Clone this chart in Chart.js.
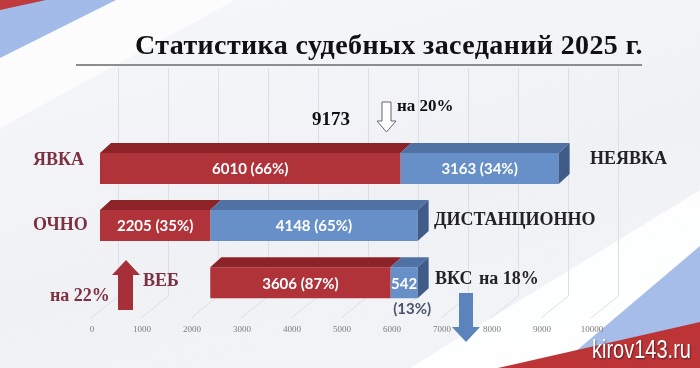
<!DOCTYPE html>
<html>
<head>
<meta charset="utf-8">
<script src="https://cdn.jsdelivr.net/npm/chart.js@4.4.1/dist/chart.umd.min.js"></script>
<style>
    html, body { margin: 0; padding: 0; }
    #wrap {
        position: relative; width: 700px; height: 368px; overflow: hidden;
        background: linear-gradient(165deg, #f6f7fa 0%, #eff1f5 55%, #f4f5f8 100%);
    }
    #deco, #c { position: absolute; left: 0; top: 0; }
    #mark {
        position: absolute; left: 592px; top: 335px;
        font: 25px "Liberation Sans", Arial, sans-serif; color: #fff;
        transform: scaleX(0.8); transform-origin: left top;
        text-shadow: 1px 1px 2px rgba(0,0,0,0.55);
    }
</style>
</head>
<body>
<div id="wrap">
    <svg id="deco" width="700" height="368">
        <polygon points="0,55 112,0 235,0 0,128" fill="#ffffff" opacity="0.7"/>
        <polygon points="0,0 116,0 0,58" fill="#a3bbe8"/>
        <polygon points="0,0 46,0 0,10" fill="#c0393d"/>
        <polygon points="700,190 700,246 556,368 410,368" fill="#ffffff" opacity="0.85"/>
        <polygon points="700,246 700,368 556,368" fill="#a5bde8"/>
        <polygon points="700,322 700,368 498,368" fill="#bd3437"/>
    </svg>
    <canvas id="c" width="700" height="368"></canvas>
    <div id="mark">kirov143.ru</div>
</div>
<script>
// data
const categories = ['ЯВКА', 'ОЧНО', 'ВЕБ'];
const otherNames = ['НЕЯВКА', 'ДИСТАНЦИОННО', 'ВКС'];
const startValues = [0, 0, 2205];
const redValues = [6010, 2205, 3606];
const blueValues = [3163, 4148, 542];
const redPercents = [66, 35, 87];
const bluePercents = [34, 65, 13];

const redRanges = startValues.map((s, i) => [s, s + redValues[i]]);
const blueRanges = startValues.map((s, i) => [s + redValues[i], s + redValues[i] + blueValues[i]]);

const SERIF = '"Liberation Serif", "Times New Roman", serif';
const SANS = 'Lato, "Open Sans", sans-serif';
const DX = 11, DY = 10; // 3d depth

function poly(ctx, pts, color) {
    ctx.beginPath();
    ctx.moveTo(pts[0][0], pts[0][1]);
    for (let i = 1; i < pts.length; i++) ctx.lineTo(pts[i][0], pts[i][1]);
    ctx.closePath();
    ctx.fillStyle = color;
    ctx.fill();
}

function text(ctx, str, x, y, font, color, align) {
    ctx.font = font;
    ctx.fillStyle = color;
    ctx.textAlign = align || 'left';
    ctx.textBaseline = 'middle';
    ctx.fillText(str, x, y);
}

const bars3d = {
    id: 'bars3d',
    beforeDatasetsDraw(chart) {
        // grid on a tilted back wall
        const ctx = chart.ctx, xs = chart.scales.x;
        ctx.save();
        ctx.strokeStyle = '#dcdee4';
        ctx.lineWidth = 1;
        xs.ticks.forEach(t => {
            const px = Math.round(xs.getPixelForValue(t.value));
            ctx.beginPath();
            ctx.moveTo(px + 18.5, 68);
            ctx.lineTo(px + 18.5, 296);
            ctx.lineTo(px - 9, 318);
            ctx.stroke();
        });
        ctx.restore();
    },
    afterDatasetsDraw(chart) {
        const ctx = chart.ctx;
        const tops = ['#8c2328', '#4f71a3'];
        ctx.save();
        chart.data.datasets.forEach((ds, di) => {
            chart.getDatasetMeta(di).data.forEach((bar, i) => {
                const p = bar.getProps(['x', 'y', 'base', 'height'], true);
                const l = Math.min(p.x, p.base), r = Math.max(p.x, p.base);
                const t = p.y - p.height / 2, b = p.y + p.height / 2;
                poly(ctx, [[l, t], [r, t], [r + DX, t - DY], [l + DX, t - DY]], tops[di]);
                if (di === 1) {
                    poly(ctx, [[r, t], [r + DX, t - DY], [r + DX, b - DY], [r, b]], '#3f5c88');
                }
                const cx = (l + r) / 2;
                if (di === 0) {
                    text(ctx, redValues[i] + ' (' + redPercents[i] + '%)', cx, p.y + 1, 'bold 15px ' + SANS, '#fff', 'center');
                } else if (blueValues[i] > 1000) {
                    text(ctx, blueValues[i] + ' (' + bluePercents[i] + '%)', cx, p.y + 1, 'bold 15px ' + SANS, '#fff', 'center');
                } else {
                    text(ctx, String(blueValues[i]), cx, p.y + 1, 'bold 15px ' + SANS, '#fff', 'center');
                    text(ctx, '(' + bluePercents[i] + '%)', cx + 8, b + 11, 'bold 15px ' + SANS, '#48536a', 'center');
                }
            });
        });
        ctx.restore();
    },
    afterDraw(chart) {
        const ctx = chart.ctx;
        const maroon = '#7d3040', dark = '#232323';
        const B = 'bold 18px ' + SERIF;
        ctx.save();
        // title and rule
        ctx.letterSpacing = '0.4px';
        text(ctx, 'Статистика судебных заседаний 2025 г.', 389, 47, 'bold 28px ' + SERIF, '#111', 'center');
        ctx.letterSpacing = '0px';
        ctx.fillStyle = '#8d8d8d';
        ctx.fillRect(76, 64, 566, 2);

        text(ctx, categories[0], 33, 160, B, maroon);
        text(ctx, categories[1], 33, 225, B, maroon);
        text(ctx, categories[2], 143, 281, B, maroon);
        text(ctx, otherNames[0], 590, 159, B, dark);
        text(ctx, otherNames[1], 434, 220, B, dark);
        text(ctx, otherNames[2], 435, 279, B, dark);
        text(ctx, 'на 18%', 479, 279, B, dark);
        text(ctx, 'на 22%', 50, 296, B, maroon);

        const total = redValues[0] + blueValues[0];
        text(ctx, String(total), 331, 120, 'bold 19px ' + SERIF, '#111', 'center');
        text(ctx, 'на 20%', 397, 107, 'bold 17px ' + SERIF, '#111');

        // hollow arrow down
        ctx.beginPath();
        const ha = [[382, 102], [391, 102], [391, 121], [396, 121], [386.5, 132], [377, 121], [382, 121]];
        ctx.moveTo(ha[0][0], ha[0][1]);
        ha.slice(1).forEach(q => ctx.lineTo(q[0], q[1]));
        ctx.closePath();
        ctx.fillStyle = '#fff';
        ctx.fill();
        ctx.strokeStyle = '#666';
        ctx.lineWidth = 1;
        ctx.stroke();

        // red arrow up
        poly(ctx, [[126, 260], [140, 275], [133, 275], [133, 310], [118, 310], [118, 275], [112, 275]], '#a5303a');
        // blue arrow down
        poly(ctx, [[459, 293], [473, 293], [473, 327], [480, 327], [466, 342], [452, 327], [459, 327]], '#5b84bd');
        ctx.restore();
    }
};

new Chart(document.getElementById('c'), {
    type: 'bar',
    data: {
        labels: categories,
        datasets: [{
            data: redRanges,
            backgroundColor: '#b0333a',
            borderWidth: 0,
            grouped: false,
            barPercentage: 1,
            categoryPercentage: 0.544
        }, {
            data: blueRanges,
            backgroundColor: '#6890c8',
            borderWidth: 0,
            grouped: false,
            barPercentage: 1,
            categoryPercentage: 0.544
        }]
    },
    options: {
        indexAxis: 'y',
        responsive: false,
        animation: false,
        layout: { padding: { left: 100, right: 100, top: 140, bottom: 20 } },
        plugins: { legend: { display: false }, tooltip: { enabled: false } },
        scales: {
            x: {
                min: 0,
                max: 10000,
                ticks: {
                    stepSize: 1000, padding: 13, labelOffset: -8, color: '#7c7c7c',
                    font: { family: SERIF, size: 9 },
                    callback: v => String(v)
                },
                grid: { display: false, drawTicks: false },
                border: { display: false }
            },
            y: { display: false }
        }
    },
    plugins: [bars3d]
});
</script>
</body>
</html>
